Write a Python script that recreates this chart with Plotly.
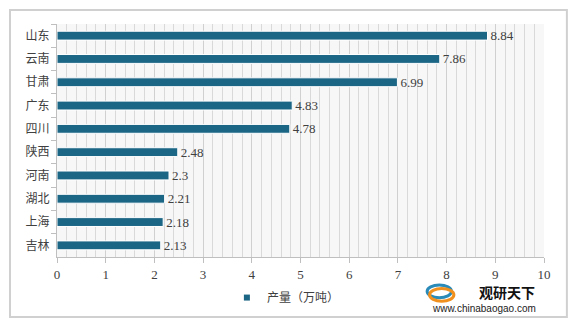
import plotly.graph_objects as go

provinces = ["山东", "云南", "甘肃", "广东", "四川", "陕西", "河南", "湖北", "上海", "吉林"]
output = [8.84, 7.86, 6.99, 4.83, 4.78, 2.48, 2.3, 2.21, 2.18, 2.13]
labels = ["8.84", "7.86", "6.99", "4.83", "4.78", "2.48", "2.3", "2.21", "2.18", "2.13"]
series_name = "产量（万吨）"

FONT = "Liberation Serif, Noto Sans CJK SC, serif"
BAR = "#1B6585"

fig = go.Figure()
fig.add_trace(go.Bar(
    y=provinces, x=output, orientation="h", name=series_name,
    marker=dict(color=BAR, line=dict(color="white", width=1)),
    width=0.38,
    text=labels, textposition="outside", cliponaxis=False, constraintext="none",
    textfont=dict(family=FONT, size=13, color="#404040"),
    showlegend=False,
))
# legend entry with small square marker
fig.add_trace(go.Scatter(
    x=[None], y=[None], mode="markers", name=series_name,
    marker=dict(symbol="square", size=6, color=BAR), showlegend=True,
))

fig.update_layout(
    width=574, height=327,
    margin=dict(l=57, r=30, t=24, b=70, autoexpand=False),
    paper_bgcolor="white", plot_bgcolor="#f7f7f7",
    font=dict(family=FONT, size=12, color="#404040"),
    showlegend=True,
    legend=dict(orientation="h", x=0.47, xanchor="center", y=0.09, yanchor="middle",
                yref="container", itemwidth=30, tracegroupgap=0,
                font=dict(family="Noto Sans CJK SC", size=12, color="#404040"),
                bgcolor="rgba(0,0,0,0)"),
    xaxis=dict(range=[0, 10], dtick=1, tick0=0, showgrid=True, gridcolor="#d0d0d0", gridwidth=1,
               minor=dict(dtick=0.2, showgrid=True, gridcolor="#d9d9d9", gridwidth=1),
               showline=True, linecolor="#bfbfbf", ticks="outside", ticklen=5, tickcolor="#bfbfbf",
               tickfont=dict(family=FONT, size=13, color="#404040"), zeroline=False,
               fixedrange=True),
    yaxis=dict(autorange="reversed", showline=True, linecolor="#bfbfbf", ticks="outside",
               ticklen=5, tickcolor="#bfbfbf", tickson="boundaries",
               tickfont=dict(family="Noto Sans CJK SC", size=12, color="#404040"),
               ticklabelstandoff=4, showgrid=False),
    shapes=[
        dict(type="rect", xref="paper", yref="paper", x0=-0.0965, x1=1.047, y0=-0.2575, y1=1.06,
             line=dict(color="#d0d0d0", width=2), fillcolor="rgba(0,0,0,0)", layer="below"),
        dict(type="circle", xref="paper", yref="paper", x0=0.76, x1=0.81, y0=-0.175, y1=-0.12,
             line=dict(color="#2a8ab8", width=3), fillcolor="rgba(0,0,0,0)"),
        dict(type="circle", xref="paper", yref="paper", x0=0.765, x1=0.815, y0=-0.19, y1=-0.135,
             line=dict(color="#f0901e", width=3), fillcolor="rgba(0,0,0,0)"),
    ],
    annotations=[
        dict(text="<b>观研天下</b>", xref="paper", yref="paper", x=0.985, y=-0.150, xanchor="right",
             yanchor="middle", showarrow=False,
             font=dict(family="Noto Sans CJK SC", size=14, color="#111111")),
        dict(text="www.chinabaogao.com", xref="paper", yref="paper", x=0.988, y=-0.223, xanchor="right",
             yanchor="middle", showarrow=False,
             font=dict(family="Liberation Sans", size=10, color="#222222")),
    ],
)

fig.write_html("out.html")
